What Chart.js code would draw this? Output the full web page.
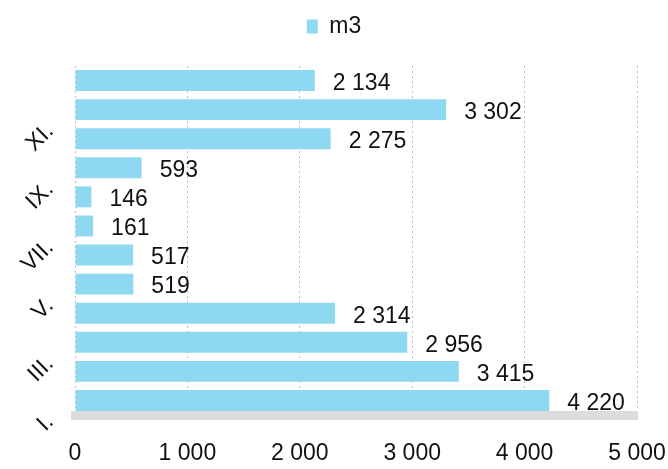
<!DOCTYPE html>
<html>
<head>
<meta charset="utf-8">
<script src="https://cdn.jsdelivr.net/npm/chart.js@4"></script>
<style>
  html, body { margin: 0; padding: 0; background: #fff; }
  #wrap { width: 668px; height: 469px; position: relative; }
</style>
</head>
<body>
<div id="wrap"><canvas id="chart"></canvas></div>
<script>
const categories = ['I.', 'II.', 'III.', 'IV.', 'V.', 'VI.', 'VII.', 'VIII.', 'IX.', 'X.', 'XI.', 'XII.'];
const values = [4220, 3415, 2956, 2314, 519, 517, 161, 146, 593, 2275, 3302, 2134];
const seriesName = 'm3';
const xTicks = [0, 1000, 2000, 3000, 4000, 5000];

const barColor = '#8fd8f2';
const font = '"Liberation Sans", Arial, sans-serif';

// thousands with a space, like "2 134"
const fmt = (n) => String(n).replace(/\B(?=(\d{3})+(?!\d))/g, ' ');

const valueLabels = {
  id: 'valueLabels',
  afterDatasetsDraw(chart) {
    let ctx = chart.ctx;
    let meta = chart.getDatasetMeta(0);
    ctx.save();
    ctx.font = '23px ' + font;
    ctx.fillStyle = '#111';
    ctx.textBaseline = 'middle';
    ctx.textAlign = 'left';
    meta.data.forEach((bar, i) => {
      ctx.fillText(fmt(values[i]), bar.x + 18, bar.y + 3);
    });
    ctx.restore();
  }
};

const legendGap = {
  id: 'legendGap',
  beforeInit(chart) {
    let fit = chart.legend.fit;
    chart.legend.fit = function () {
      fit.bind(chart.legend)();
      this.height = 66;
    };
  }
};

let ctx = document.getElementById('chart').getContext('2d');

let myChart = new Chart(ctx, {
  type: 'bar',
  data: {
    labels: categories,
    datasets: [{
      label: seriesName,
      data: values,
      backgroundColor: barColor,
      borderWidth: 0,
      categoryPercentage: 1,
      barPercentage: 0.72
    }]
  },
  options: {
    indexAxis: 'y',
    responsive: true,
    maintainAspectRatio: false,
    animation: false,
    layout: { padding: 0 },
    plugins: {
      tooltip: { enabled: false },
      legend: {
        position: 'top',
        labels: {
          boxWidth: 11,
          boxHeight: 14,
          padding: 15,
          color: '#111',
          font: { family: font, size: 23 }
        }
      }
    },
    scales: {
      x: {
        min: 0,
        max: 5000,
        afterBuildTicks: (scale) => {
          scale.ticks = xTicks.map((v) => ({ value: v }));
        },
        afterFit: (scale) => {
          scale.height = 54;
          scale.paddingLeft = 0;
          scale.paddingRight = 31;
        },
        grid: { color: '#bdbdbd', lineWidth: 1, drawTicks: false },
        border: { display: true, color: 'rgba(205,205,205,0.7)', width: 9, dash: [2, 3] },
        ticks: {
          padding: 25,
          color: '#111',
          maxRotation: 0,
          font: { family: font, size: 23 },
          callback: (v) => fmt(v)
        }
      },
      y: {
        reverse: true,
        afterFit: (scale) => {
          scale.width = 75;
          scale.paddingTop = 0;
          scale.paddingBottom = 0;
        },
        grid: { display: false, drawTicks: false },
        border: { display: false },
        ticks: {
          autoSkip: false,
          minRotation: 45,
          maxRotation: 45,
          labelOffset: 18,
          padding: 25,
          color: '#111',
          font: { family: font, size: 23 },
          callback: function (v, i) {
            return i % 2 === 0 ? this.getLabelForValue(v) : '';
          }
        }
      }
    }
  },
  plugins: [valueLabels, legendGap]
});
</script>
</body>
</html>
